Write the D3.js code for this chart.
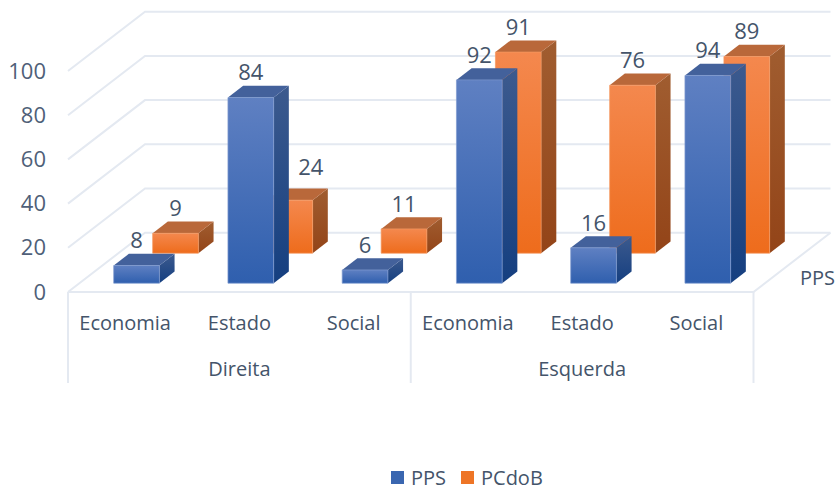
<!DOCTYPE html>
<html>
<head>
<meta charset="utf-8">
<script src="https://cdn.jsdelivr.net/npm/d3@7"></script>
<style>
  html, body { margin: 0; background: #fff; }
  svg { display: block; }
  text { font-family: "Open Sans", sans-serif; fill: #44546a; }
</style>
</head>
<body>
<div id="my_dataviz"></div>
<script>
// data //
const groups = ["Direita", "Esquerda"];
const categories = ["Economia", "Estado", "Social", "Economia", "Estado", "Social"];
const seriesNames = ["PPS", "PCdoB"];
const ppsValues = [8, 84, 6, 92, 16, 94];
const pcdobValues = [9, 24, 11, 91, 76, 89];
const yTicks = [0, 20, 40, 60, 80, 100];

const width = 837, height = 489;

const svg = d3.select("#my_dataviz").append("svg")
  .attr("width", width)
  .attr("height", height);

// front edge of the floor, and how far the back wall is pushed away
const x = d3.scaleBand()
  .domain(d3.range(categories.length))
  .range([68, 753.5])
  .paddingInner(0.6)
  .paddingOuter(0.3);

const y = d3.scaleLinear().domain([0, 100]).range([292, 71]);

const depthX = 77, depthY = 59.3;

const depth = d3.scaleBand()
  .domain(seriesNames)
  .range([0, 1])
  .paddingInner(0.61)
  .paddingOuter(0.293);

// oblique projection: px = screen x at the front, d = 0..1 into the chart
function project(px, d, value) {
  return [px + d * depthX, y(value) - d * depthY];
}

const poly = pts => "M" + pts.map(p => p.join(",")).join("L") + "Z";

// gradients //
const defs = svg.append("defs");
function addGradient(id, top, bottom) {
  const g = defs.append("linearGradient")
    .attr("id", id)
    .attr("x1", 0).attr("y1", 0).attr("x2", 0).attr("y2", 1);
  g.append("stop").attr("offset", "0%").attr("stop-color", top);
  g.append("stop").attr("offset", "100%").attr("stop-color", bottom);
}
addGradient("ppsFront", "#5f80c2", "#2f5fae");
addGradient("ppsSide", "#3c5a8e", "#153f80");
addGradient("pcdobFront", "#f4884e", "#ee6c1c");
addGradient("pcdobSide", "#a05d30", "#934418");

const palette = {
  PPS: { front: "url(#ppsFront)", side: "url(#ppsSide)", top: "#43619b", edge: "#7f9bd0" },
  PCdoB: { front: "url(#pcdobFront)", side: "url(#pcdobSide)", top: "#b9683a", edge: "#f59a62" }
};

// walls and floor //
const gridColor = "#e4e9f1";
const walls = svg.append("g")
  .attr("fill", "none")
  .attr("stroke", gridColor)
  .attr("stroke-width", 2);

const xStart = x.range()[0], xEnd = x.range()[1];

yTicks.forEach(t => {
  const back = project(xStart, 1, t);
  walls.append("path").attr("d", d3.line()([[xStart, y(t)], back, project(xEnd, 1, t)]));
});

walls.append("path").attr("d", d3.line()([[xStart, y(0)], [xEnd, y(0)], project(xEnd, 1, 0)]));

// dividers below the floor, one at each end of a group
const groupEdge = d3.scaleLinear().domain([0, groups.length]).range([xStart, xEnd]);
d3.range(groups.length + 1).forEach(i => {
  walls.append("line")
    .attr("x1", groupEdge(i)).attr("x2", groupEdge(i))
    .attr("y1", y(0)).attr("y2", 383);
});

// y axis
const yAxisGroup = svg.append("g")
  .attr("transform", "translate(49,0)")
  .call(d3.axisLeft(y).tickValues(yTicks).tickSize(0));
yAxisGroup.select(".domain").remove();
yAxisGroup.selectAll("text").style("font-size", "22px").style("fill", "#4f5f78");

// bars, back row first //
function drawBars(name, values) {
  const c = palette[name];
  const d0 = depth(name), d1 = d0 + depth.bandwidth();
  const g = svg.append("g").attr("class", "series");
  values.forEach((v, i) => {
    const left = x(i), right = x(i) + x.bandwidth();
    g.append("path")
      .attr("d", poly([project(right, d0, 0), project(right, d1, 0), project(right, d1, v), project(right, d0, v)]))
      .attr("fill", c.side);
    g.append("path")
      .attr("d", poly([project(left, d0, v), project(right, d0, v), project(right, d1, v), project(left, d1, v)]))
      .attr("fill", c.top);
    g.append("path")
      .attr("d", poly([project(left, d0, 0), project(right, d0, 0), project(right, d0, v), project(left, d0, v)]))
      .attr("fill", c.front)
      .attr("stroke", c.edge)
      .attr("stroke-width", 0.7);
  });
}
drawBars("PCdoB", pcdobValues);
drawBars("PPS", ppsValues);

// value labels //
function drawLabels(name, values) {
  const d0 = depth(name);
  values.forEach((v, i) => {
    const p = project(x(i) + x.bandwidth() / 2, d0, v);
    // the 24 is hidden behind the tall blue bar so Excel moved it aside
    const moved = name === "PCdoB" && i === 1;
    svg.append("text")
      .attr("x", p[0] + (moved ? 21 : 0))
      .attr("y", p[1] - (moved ? 33 : 25))
      .attr("dy", "0.35em")
      .attr("text-anchor", "middle")
      .style("font-size", "22px")
      .text(v);
  });
}
drawLabels("PCdoB", pcdobValues);
drawLabels("PPS", ppsValues);

// category and group labels
svg.append("g").selectAll("text")
  .data(categories)
  .join("text")
  .attr("x", (d, i) => x(i) + x.bandwidth() / 2)
  .attr("y", 322.5)
  .attr("dy", "0.35em")
  .attr("text-anchor", "middle")
  .style("font-size", "20px")
  .text(d => d);

svg.append("g").selectAll("text")
  .data(groups)
  .join("text")
  .attr("x", (d, i) => (groupEdge(i) + groupEdge(i + 1)) / 2)
  .attr("y", 369)
  .attr("dy", "0.35em")
  .attr("text-anchor", "middle")
  .style("font-size", "20px")
  .text(d => d);

// series label on the depth axis
svg.append("text")
  .attr("x", 835)
  .attr("y", 278)
  .attr("dy", "0.35em")
  .attr("text-anchor", "end")
  .style("font-size", "20px")
  .text(seriesNames[0]);

// legend //
const legendX = d3.scaleOrdinal().domain(seriesNames).range([391, 461]);
const legendColor = d3.scaleOrdinal().domain(seriesNames).range(["#3a66b0", "#ee7526"]);
const legend = svg.append("g").selectAll("g")
  .data(seriesNames)
  .join("g")
  .attr("transform", d => `translate(${legendX(d)},471)`);
legend.append("rect")
  .attr("width", 13)
  .attr("height", 13)
  .attr("fill", d => legendColor(d));
legend.append("text")
  .attr("x", 20)
  .attr("y", 6.5)
  .attr("dy", "0.35em")
  .style("font-size", "20px")
  .text(d => d);
</script>
</body>
</html>
